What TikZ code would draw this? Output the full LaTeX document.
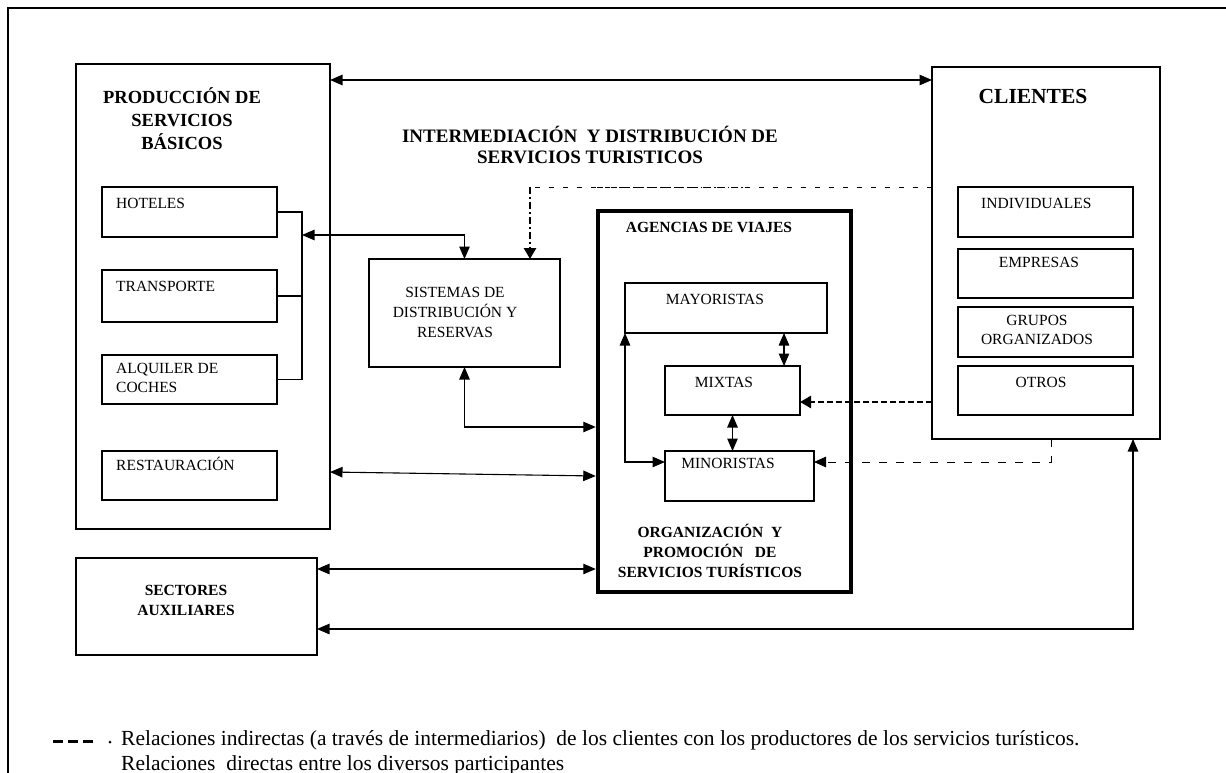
\documentclass[tikz,border=0pt]{standalone}
\usepackage{fontspec}
\setmainfont{Liberation Serif}
\usetikzlibrary{arrows.meta}
\tikzset{
  box/.style={draw, line width=1.1pt, inner sep=0pt, outer sep=0pt},
  txt/.style={inner sep=0pt, font=\fontsize{15.5}{19}\selectfont},
  btxt/.style={inner sep=0pt, align=center, font=\fontsize{15.5}{20}\selectfont\bfseries},
  bigtxt/.style={inner sep=0pt, align=center, font=\fontsize{18.5}{23}\selectfont\bfseries},
  legtxt/.style={anchor=west, inner sep=0pt, font=\fontsize{21.5}{22}\selectfont},
  con/.style={line width=1.1pt},
  dbl/.style={{Triangle[length=12.5pt,width=10.5pt]}-{Triangle[length=12.5pt,width=10.5pt]}},
}
\begin{document}
\begin{tikzpicture}[x=1pt,y=-1pt]
\useasboundingbox (0,0) rectangle (1226,773);
\clip (0,0) rectangle (1226,773);
% outer frame
\draw[line width=1.2pt] (1240,8) -- (8,8) -- (8,790);

% production
\node[box, minimum width=254pt, minimum height=465pt] (prod) at (203,296.5) {};
\node[bigtxt] (prodT) at (182,119) {PRODUCCIÓN DE\\SERVICIOS\\BÁSICOS};
\node[box, minimum width=175pt, minimum height=50pt] (hot) at (189.5,212) {};
\node[txt, anchor=west] (hotT) at (116,203) {HOTELES};
\node[box, minimum width=175pt, minimum height=52pt] (trans) at (189.5,296) {};
\node[txt, anchor=west] (transT) at (116,286) {TRANSPORTE};
\node[box, minimum width=175pt, minimum height=49pt] (alq) at (189.5,379.5) {};
\node[txt, anchor=west, align=left] (alqT) at (116,378) {ALQUILER DE\\COCHES};
\node[box, minimum width=175pt, minimum height=49pt] (rest) at (189.5,475.5) {};
\node[txt, anchor=west] (restT) at (116,464) {RESTAURACIÓN};

% sectores
\node[box, minimum width=241pt, minimum height=97pt] (sec) at (196.5,606.5) {};
\node[btxt] (secT) at (186,600) {SECTORES\\AUXILIARES};

% sistemas
\node[box, minimum width=191pt, minimum height=108pt] (sis) at (464.5,313) {};
\node[txt, align=center, font=\fontsize{15.5}{20}\selectfont] (sisT) at (455,312) {SISTEMAS DE\\DISTRIBUCIÓN Y\\ RESERVAS};

% intermediacion title
\node[inner sep=0pt, align=center, font=\fontsize{19}{21}\selectfont\bfseries] (intT) at (590,145) {INTERMEDIACIÓN\ \ Y DISTRIBUCIÓN DE\\SERVICIOS TURISTICOS};

% agencias
\node[draw, line width=4.5pt, inner sep=0pt, outer sep=2.25pt, minimum width=253pt, minimum height=381pt] (ag) at (724.5,401.5) {};
\node[btxt] (agT) at (709,227) {AGENCIAS DE VIAJES};
\node[box, minimum width=202pt, minimum height=50pt] (may) at (726,308) {};
\node[txt] (mayT) at (715,299) {MAYORISTAS};
\node[box, minimum width=135pt, minimum height=49pt] (mix) at (732.5,390.5) {};
\node[txt] (mixT) at (724,382) {MIXTAS};
\node[box, minimum width=149pt, minimum height=50pt] (min) at (739.5,476) {};
\node[txt] (minT) at (728,463) {MINORISTAS};
\node[btxt] (orgT) at (710,551) {ORGANIZACIÓN\ \ Y\\ PROMOCIÓN\ \ \ DE\\SERVICIOS TURÍSTICOS};

% clientes
\node[box, minimum width=228pt, minimum height=372pt] (cli) at (1046,253) {};
\node[inner sep=0pt, font=\fontsize{21.5}{23}\selectfont\bfseries] (cliT) at (1033,96) {CLIENTES};
\node[box, minimum width=175pt, minimum height=50pt] (ind) at (1045.5,212) {};
\node[txt, anchor=west] (indT) at (981,203) {INDIVIDUALES};
\node[box, minimum width=175pt, minimum height=49pt] (emp) at (1045.5,273.5) {};
\node[txt] (empT) at (1039,262) {EMPRESAS};
\node[box, minimum width=175pt, minimum height=50pt] (gru) at (1045.5,332) {};
\node[txt, align=center] (gruT) at (1037,329.5) {GRUPOS\\ORGANIZADOS};
\node[box, minimum width=175pt, minimum height=49pt] (otr) at (1045.5,390.5) {};
\node[txt] (otrT) at (1041,382) {OTROS};

% helper coordinates
\coordinate (brk) at (302,235);
\coordinate (yTop) at (0,80);
\coordinate (dd) at (530,187);
\coordinate (xMM) at (784,0);
\coordinate (lp) at (625,462);
\coordinate (yOt) at (0,402);
\coordinate (cb) at (1051,439);
\coordinate (minA) at (814,462);
\coordinate (ySis) at (0,427);
\coordinate (yR1) at (0,472);
\coordinate (yR2) at (0,476);
\coordinate (ySec) at (0,569);
\coordinate (yBot) at (0,629);
\coordinate (xBot) at (1133,0);

% bracket
\draw[con] (hot.east) -- ++(25,0) |- (alq.east);
\draw[con] (trans.east) -- ++(25,0);
\draw[con, dbl] (brk) -| (sis.north);

% top double arrow
\draw[con, dbl] (yTop -| prod.east) -- (yTop -| cli.west);

% indirect dashed links
\draw[line width=1pt, dash pattern=on 5pt off 9pt] (dd -| cli.west) -- (dd);
\draw[line width=1pt, dash pattern=on 6pt off 3pt on 1.5pt off 3pt] (597,187) -- (745,187);
\draw[line width=2.6pt, dash pattern=on 7pt off 3pt on 2pt off 3pt, -{Triangle[length=11pt,width=12pt]}] (dd) -- (dd |- sis.north);
\draw[line width=2.6pt, dash pattern=on 6pt off 3pt, -{Triangle[length=11pt,width=12pt]}] (yOt -| cli.west) -- (yOt -| mix.east);
\draw[line width=1pt, dash pattern=on 8pt off 9pt, -{Triangle[length=12pt,width=10.5pt]}] (cb) -- (cb |- minA) -- (minA);

% agencies internal
\draw[con, dbl] (may.south -| xMM) -- (mix.north -| xMM);
\draw[con, dbl] (mix.south) -- (mix.south |- min.north);
\draw[con, dbl] (may.south west) -- (lp) -- (lp -| min.west);

% links into agencias
\draw[con, dbl] (sis.south) |- (ySis -| ag.west);
\draw[con, dbl] (yR1 -| prod.east) -- (yR2 -| ag.west);
\draw[con, dbl] (ySec -| sec.east) -- (ySec -| ag.west);
\draw[con, dbl] (yBot -| sec.east) -| (xBot |- cli.south);

% legend
\draw[line width=3pt, dash pattern=on 9.5pt off 5.5pt] (53,741) -- (94,741);
\fill (110,742) circle (1.5pt);
\node[legtxt] (leg1) at (121,740) {Relaciones indirectas (a través de intermediarios)\ \ de los clientes con los productores de los servicios turísticos.};
\node[legtxt] (leg2) at (121,765) {Relaciones\ \ directas entre los diversos participantes};
\end{tikzpicture}
\end{document}
